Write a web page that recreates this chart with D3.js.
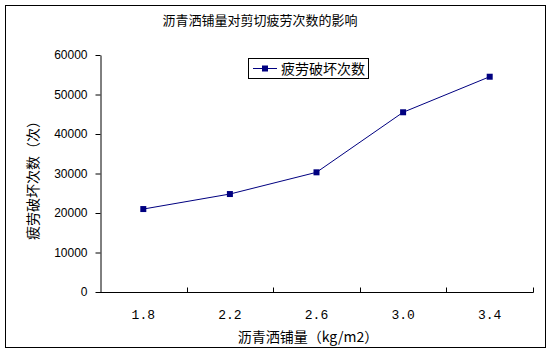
<!DOCTYPE html>
<html>
<head>
<meta charset="utf-8">
<script src="https://cdn.jsdelivr.net/npm/d3@7"></script>
<style>
  body { margin: 0; background: #fff; }
  text { font-family: "Noto Sans CJK SC", "DejaVu Sans", sans-serif; }
</style>
</head>
<body>
<svg id="chart" width="552" height="354"></svg>
<script>
// chart data
const categories = ["1.8", "2.2", "2.6", "3.0", "3.4"];
const cycles = [21000, 24800, 30300, 45500, 54500];
const yTicks = [0, 10000, 20000, 30000, 40000, 50000, 60000];

const svg = d3.select("#chart");
const navy = "#000080";

// outer frame
svg.append("rect")
    .attr("x", 5.5).attr("y", 5.5)
    .attr("width", 540).attr("height", 342)
    .attr("fill", "#fff")
    .attr("stroke", "#000");

const plotLeft = 100, plotRight = 533, plotTop = 55, plotBottom = 292;

const x = d3.scaleBand().domain(categories).range([plotLeft, plotRight]);
const y = d3.scaleLinear().domain([0, 60000]).range([plotBottom, plotTop]);

// y axis
const yAxis = svg.append("g")
    .attr("transform", `translate(${plotLeft + 0.5},0)`)
    .call(d3.axisLeft(y).tickValues(yTicks).tickFormat(d3.format("d"))
        .tickSize(5).tickPadding(8).tickSizeOuter(0));
yAxis.select(".domain").attr("stroke", "#000");
yAxis.selectAll("text")
    .style("font-family", "'Liberation Sans', sans-serif")
    .style("font-size", "12px")
    .attr("fill", "#000");

// x axis, ticks between the categories
const xAxis = svg.append("g")
    .attr("transform", `translate(0,${plotBottom + 0.5})`);
xAxis.append("line")
    .attr("x1", plotLeft).attr("x2", plotRight + 0.5)
    .attr("stroke", "#000");
xAxis.selectAll(".tk")
    .data(categories)
    .enter().append("line")
    .attr("x1", d => Math.round(x(d) + x.bandwidth()) + 0.5)
    .attr("x2", d => Math.round(x(d) + x.bandwidth()) + 0.5)
    .attr("y1", 0).attr("y2", -5)
    .attr("stroke", "#000");
xAxis.selectAll(".lbl")
    .data(categories)
    .enter().append("text")
    .attr("x", d => x(d) + x.bandwidth() / 2)
    .attr("y", 26)
    .attr("text-anchor", "middle")
    .style("font-family", "'Liberation Mono', monospace")
    .style("font-size", "13px")
    .text(d => d);

// line + markers
const pts = categories.map((c, i) => [x(c) + x.bandwidth() / 2, y(cycles[i])]);
svg.append("path")
    .attr("d", d3.line()(pts))
    .attr("fill", "none")
    .attr("stroke", navy)
    .attr("stroke-width", 1);
svg.append("g").selectAll("rect")
    .data(pts)
    .enter().append("rect")
    .attr("x", d => d[0] - 3).attr("y", d => d[1] - 3)
    .attr("width", 6).attr("height", 6)
    .attr("fill", navy);

// titles
svg.append("text")
    .attr("x", 260).attr("y", 25)
    .attr("text-anchor", "middle")
    .style("font-size", "13px")
    .text("沥青洒铺量对剪切疲劳次数的影响");

svg.append("text")
    .attr("transform", "translate(38,177) rotate(-90)")
    .attr("text-anchor", "middle")
    .style("font-size", "14px")
    .text("疲劳破坏次数（次）");

svg.append("text")
    .attr("x", 308).attr("y", 342)
    .attr("text-anchor", "middle")
    .style("font-size", "14px")
    .text("沥青洒铺量（kg/m2）");

// legend
const lg = svg.append("g");
lg.append("rect")
    .attr("x", 248.5).attr("y", 58.5)
    .attr("width", 120).attr("height", 20)
    .attr("fill", "#fff").attr("stroke", "#000");
lg.append("line")
    .attr("x1", 253).attr("x2", 277)
    .attr("y1", 68.5).attr("y2", 68.5)
    .attr("stroke", navy);
lg.append("rect")
    .attr("x", 262).attr("y", 65.5)
    .attr("width", 6).attr("height", 6)
    .attr("fill", navy);
lg.append("text")
    .attr("x", 281).attr("y", 74)
    .style("font-size", "14px")
    .text("疲劳破坏次数");
</script>
</body>
</html>
